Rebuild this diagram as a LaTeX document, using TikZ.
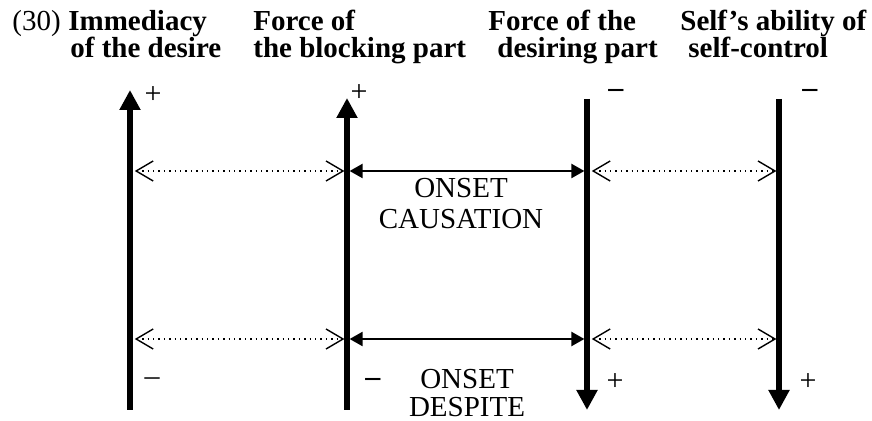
\documentclass[tikz,border=0pt]{standalone}
\usepackage{fontspec}
\setmainfont{Liberation Serif}
\usetikzlibrary{arrows.meta}

\begin{document}
\begin{tikzpicture}[x=0.5pt,y=-0.5pt,
    axis/.style={line width=2.6pt},
    onset/.style={line width=1.1pt,{Triangle[length=6.5pt,width=7pt]}-{Triangle[length=6.5pt,width=7pt]},shorten <=1.3pt,shorten >=1.3pt},
    link/.style={line width=0.7pt,dotted,{Straight Barb[length=8.5pt,width=10pt,line width=0.7pt,sep]}-{Straight Barb[length=8.5pt,width=10pt,line width=0.7pt]},shorten <=1.3pt,shorten >=1.3pt},
    head/.style={anchor=base west,font=\fontsize{14.5}{16}\selectfont\bfseries,inner sep=0pt},
    sign/.style={font=\fontsize{15}{16}\selectfont,inner sep=0pt}]

    \useasboundingbox (0,0) rectangle (872,421);

    % column headings
    \node [head,font=\fontsize{14.5}{16}\selectfont] (num) at (12,31) {(30)};
    \node [head] (imm1) at (68,31) {Immediacy};
    \node [head] (imm2) at (70,58) {of the desire};
    \node [head] (blk1) at (253,31) {Force of};
    \node [head] (blk2) at (253,58) {the blocking part};
    \node [head] (des1) at (488,31) {Force of the};
    \node [head] (des2) at (497,58) {desiring part};
    \node [head] (slf1) at (680,31) {Self’s ability of};
    \node [head] (slf2) at (688,58) {self-control};

    % the four scales
    \coordinate (imm-top) at (130,90);  \coordinate (imm-bot) at (130,410);
    \coordinate (blk-top) at (347,98);  \coordinate (blk-bot) at (347,410);
    \coordinate (des-top) at (587,99);  \coordinate (des-bot) at (587,410);
    \coordinate (slf-top) at (779,99);  \coordinate (slf-bot) at (779,410);

    \draw [axis,-{Triangle[length=10pt,width=10pt]}] (imm-bot) -- (imm-top);
    \draw [axis,-{Triangle[length=10pt,width=10pt]}] (blk-bot) -- (blk-top);
    \draw [axis,-{Triangle[length=10pt,width=10pt]}] (des-top) -- (des-bot);
    \draw [axis,-{Triangle[length=10pt,width=10pt]}] (slf-top) -- (slf-bot);

    % poles
    \node [sign] (imm-p) at (153,95) {+};
    \node [sign] (blk-p) at (359,93) {+};
    \node [sign] (des-m) at (616,93) {\textbf{–}};
    \node [sign] (slf-m) at (810,93) {\textbf{–}};
    \node [sign] (imm-m) at (152,382) {–};
    \node [sign] (blk-m) at (373,382) {\textbf{–}};
    \node [sign] (des-p) at (615,382) {+};
    \node [sign] (slf-p) at (808,382) {+};

    % upper row
    \coordinate (imm-a) at (130,171);
    \coordinate (blk-a) at (347,171);
    \coordinate (des-a) at (587,171);
    \coordinate (slf-a) at (779,171);
    \draw [link] (imm-a) -- (blk-a);
    \draw [onset] (blk-a) -- (des-a);
    \draw [link] (des-a) -- (slf-a);
    \node [align=center,font=\fontsize{14.5}{15.5}\selectfont,inner sep=0pt] (cause) at (461,204) {ONSET\\CAUSATION};

    % lower row
    \coordinate (imm-b) at (130,339);
    \coordinate (blk-b) at (347,339);
    \coordinate (des-b) at (587,339);
    \coordinate (slf-b) at (779,339);
    \draw [link] (imm-b) -- (blk-b);
    \draw [onset] (blk-b) -- (des-b);
    \draw [link] (des-b) -- (slf-b);
    \node [align=center,font=\fontsize{14.5}{14}\selectfont,inner sep=0pt] (despite) at (467,393) {ONSET\\DESPITE};

\end{tikzpicture}
\end{document}
